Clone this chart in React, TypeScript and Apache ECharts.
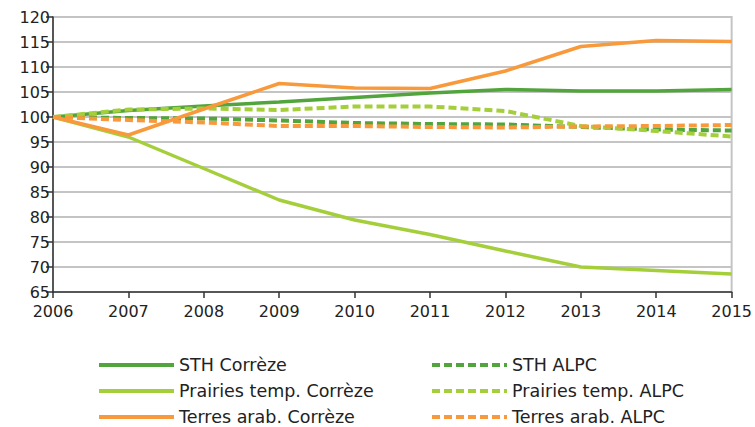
import React, { useEffect, useRef } from "react";
import * as echarts from "echarts";

const years = ["2006", "2007", "2008", "2009", "2010", "2011", "2012", "2013", "2014", "2015"];
const sthCorreze = [100, 101.3, 102.2, 103.0, 103.9, 104.8, 105.5, 105.2, 105.2, 105.5];
const sthAlpc = [100, 99.8, 99.7, 99.3, 98.8, 98.6, 98.5, 98.0, 97.5, 97.3];
const prairiesCorreze = [100, 96.0, 89.7, 83.4, 79.4, 76.5, 73.2, 70.0, 69.3, 68.6];
const prairiesAlpc = [100, 101.5, 101.7, 101.4, 102.1, 102.1, 101.2, 98.2, 97.2, 96.1];
const terresCorreze = [100, 96.4, 101.6, 106.7, 105.8, 105.7, 109.2, 114.1, 115.3, 115.1];
const terresAlpc = [100, 99.4, 98.9, 98.2, 98.2, 98.0, 97.9, 98.1, 98.2, 98.4];

const legendCol1 = ["STH Corrèze", "Prairies temp. Corrèze", "Terres arab. Corrèze"];
const legendCol2 = ["STH ALPC", "Prairies temp. ALPC", "Terres arab. ALPC"];

const DARK_GREEN = "#52a53c";
const LIGHT_GREEN = "#a4cf3b";
const ORANGE = "#f89a3c";
const FONT = "DejaVu Sans";

export default function App() {
  const ref = useRef<HTMLDivElement>(null);
  useEffect(() => {
    document.body.style.margin = "0";
    if (!ref.current) return;
    const chart = echarts.init(ref.current, undefined, { renderer: "svg" });
    const line = (name: string, data: number[], color: string, dashed: boolean) => ({
      name,
      type: "line",
      data,
      symbol: "none",
      showSymbol: false,
      lineStyle: { color, width: dashed ? 4 : 3.5, type: dashed ? [8, 4] : "solid" },
      itemStyle: { color },
    });
    const rowCenters = [365, 391, 417];
    const legends: any[] = [];
    [legendCol1, legendCol2].forEach((col, ci) => {
      col.forEach((name, ri) => {
        legends.push({
          orient: "horizontal",
          left: ci === 0 ? 97 : 430,
          top: rowCenters[ri] - 9,
          itemWidth: 75,
          itemHeight: 18,
          itemGap: 6,
          padding: 0,
          selectedMode: false,
          itemStyle: { opacity: 0 },
          lineStyle: { width: 4 },
          textStyle: { fontFamily: FONT, fontSize: 17.5, lineHeight: 18, color: "#222" },
          data: [name],
        });
      });
    });
    chart.setOption({
      animation: false,
      grid: {
        left: 53,
        right: 22,
        top: 17,
        bottom: 135,
        show: true,
        borderColor: "#c4c4c4",
        borderWidth: 2,
      },
      legend: legends,
      xAxis: {
        type: "category",
        data: years,
        boundaryGap: false,
        axisLine: { show: true, lineStyle: { color: "#333", width: 1.5 } },
        axisTick: { show: true, length: 6, lineStyle: { color: "#333", width: 1.5 } },
        axisLabel: { fontFamily: FONT, fontSize: 16, lineHeight: 16, color: "#222", margin: 11 },
        splitLine: { show: false },
      },
      yAxis: {
        type: "value",
        min: 65,
        max: 120,
        interval: 5,
        axisLine: { show: true, lineStyle: { color: "#333", width: 1.5 } },
        axisTick: { show: true, length: 7, lineStyle: { color: "#333", width: 1.5 } },
        axisLabel: { fontFamily: FONT, fontSize: 16, lineHeight: 16, color: "#222", margin: 3 },
        splitLine: { show: true, lineStyle: { color: "#c4c4c4", width: 2 } },
      },
      series: [
        line("STH Corrèze", sthCorreze, DARK_GREEN, false),
        line("STH ALPC", sthAlpc, DARK_GREEN, true),
        line("Prairies temp. Corrèze", prairiesCorreze, LIGHT_GREEN, false),
        line("Prairies temp. ALPC", prairiesAlpc, LIGHT_GREEN, true),
        line("Terres arab. Corrèze", terresCorreze, ORANGE, false),
        line("Terres arab. ALPC", terresAlpc, ORANGE, true),
      ],
    });
    return () => chart.dispose();
  }, []);
  return <div ref={ref} style={{ width: 755, height: 427 }} />;
}
